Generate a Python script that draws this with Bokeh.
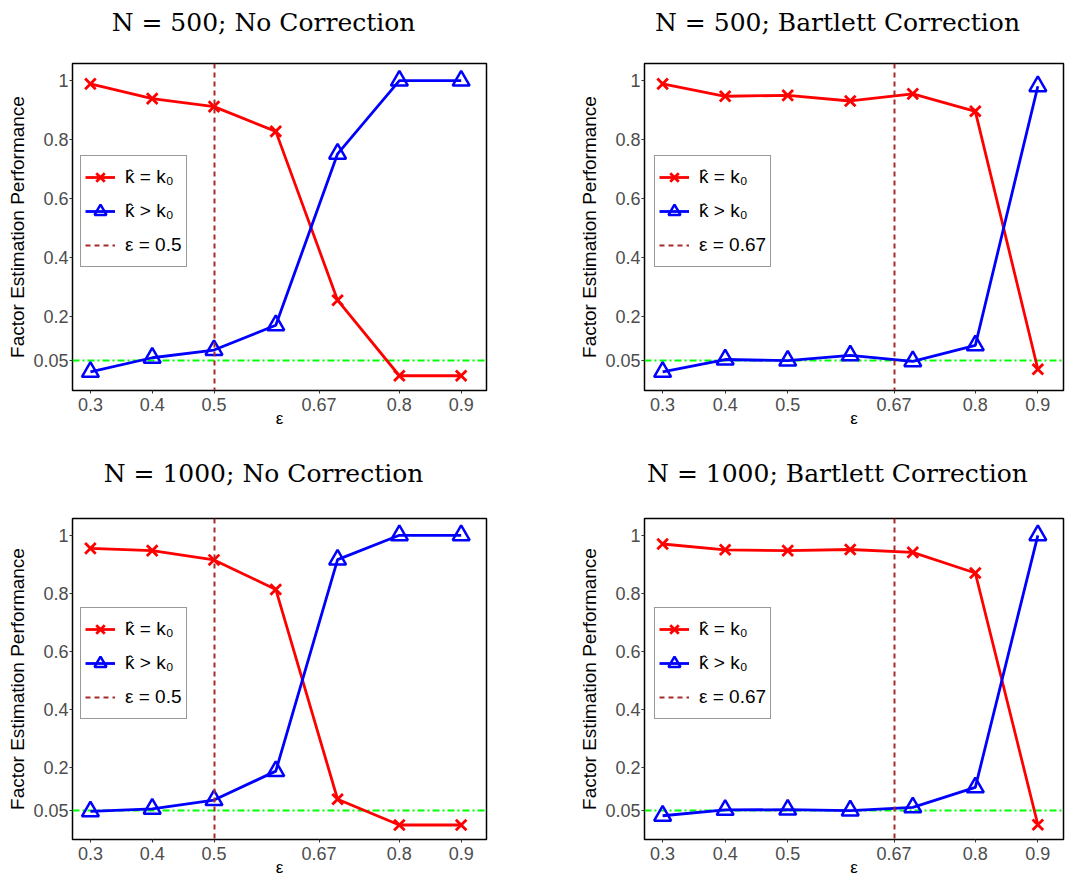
from bokeh.plotting import figure
from bokeh.layouts import gridplot
from bokeh.models import FixedTicker, Range1d
from bokeh.core.properties import value
from bokeh.embed import file_html
from bokeh.resources import INLINE

# ---------------- data ----------------
eps = [0.3, 0.4, 0.5, 0.6, 0.7, 0.8, 0.9]

red_500_nc = [0.989, 0.939, 0.912, 0.828, 0.256, 0.0, 0.0]
blue_500_nc = [0.013, 0.061, 0.087, 0.171, 0.752, 1.0, 1.0]

red_500_bc = [0.989, 0.947, 0.950, 0.931, 0.955, 0.896, 0.022]
blue_500_bc = [0.013, 0.055, 0.051, 0.069, 0.049, 0.103, 0.981]

red_1000_nc = [0.955, 0.947, 0.915, 0.813, 0.089, 0.0, 0.0]
blue_1000_nc = [0.047, 0.056, 0.086, 0.186, 0.916, 1.0, 1.0]

red_1000_bc = [0.970, 0.950, 0.947, 0.951, 0.941, 0.870, 0.001]
blue_1000_bc = [0.032, 0.052, 0.053, 0.050, 0.061, 0.130, 1.0]

cutoffs = [0.5, 0.67, 0.5, 0.67]
cutoff_labels = ["ε = 0.5", "ε = 0.67", "ε = 0.5", "ε = 0.67"]
titles = ["N = 500; No Correction", "N = 500; Bartlett Correction",
          "N = 1000; No Correction", "N = 1000; Bartlett Correction"]
alpha_level = [0.05]

x_ticks = [0.3, 0.4, 0.5, 0.67, 0.8, 0.9]
x_tick_labels = ["0.3", "0.4", "0.5", "0.67", "0.8", "0.9"]
y_ticks = [0.05, 0.2, 0.4, 0.6, 0.8, 1.0]
y_tick_labels = ["0.05", "0.2", "0.4", "0.6", "0.8", "1"]

label_eq = "k\u0302 = k\u2080"
label_gt = "k\u0302 > k\u2080"
y_label = "Factor Estimation Performance"
x_label = "ε"

RED = "#FF0000"
BLUE = "#0000FF"
GREEN = "#00FF00"
BROWN = "#A52A2A"
SANS = "Liberation Sans"


def title_strip(text, fw, h, bl, br, cx, base):
    """A thin figure (1 data unit = 1 px) that only carries the panel title."""
    t = figure(frame_width=fw, height=h, x_range=Range1d(0, fw),
               y_range=Range1d(0, h),
               output_backend="svg", toolbar_location=None,
               min_border_left=bl, min_border_right=br,
               min_border_top=0, min_border_bottom=0,
               outline_line_color=None,
               background_fill_color="white", border_fill_color="white")
    t.axis.visible = False
    t.grid.visible = False
    t.text(x=[cx], y=[base], text=[text], text_font=value("DejaVu Serif"),
           text_font_size="25px", text_color="black", text_align="center",
           text_baseline="alphabetic")
    return t


def panel(red, blue, cut, cut_label, fw, fh, bl, br, ybot_leg):
    p = figure(frame_width=fw, frame_height=fh,
               min_border_left=bl, min_border_right=br,
               min_border_top=2, min_border_bottom=38,
               x_range=Range1d(0.271, 0.941), y_range=Range1d(-0.05, 1.058),
               output_backend="svg", toolbar_location=None,
               background_fill_color="white", border_fill_color="white")

    p.grid.visible = False
    p.outline_line_color = "black"
    p.outline_line_width = 1.5
    p.outline_line_alpha = 1.0

    p.xaxis.ticker = FixedTicker(ticks=x_ticks)
    p.xaxis.major_label_overrides = dict(zip(x_ticks, x_tick_labels))
    p.yaxis.ticker = FixedTicker(ticks=y_ticks)
    p.yaxis.major_label_overrides = dict(zip(y_ticks, y_tick_labels))
    for ax in (p.xaxis[0], p.yaxis[0]):
        ax.axis_line_color = None
        ax.minor_tick_line_color = None
        ax.major_tick_in = 0
        ax.major_tick_out = 3
        ax.major_tick_line_color = "#333333"
        ax.major_label_text_font = SANS
        ax.major_label_text_font_size = "18px"
        ax.major_label_text_color = "#4D4D4D"
        ax.axis_label_text_font = SANS
        ax.axis_label_text_font_style = "normal"
        ax.axis_label_text_color = "black"
    p.xaxis.major_label_standoff = 4
    p.xaxis.axis_label = x_label
    p.xaxis.axis_label_text_font_size = "17px"
    p.xaxis.axis_label_standoff = -5
    p.yaxis.major_label_standoff = 1
    p.yaxis.axis_label = y_label
    p.yaxis.axis_label_text_font_size = "19px"
    p.yaxis.axis_label_standoff = 2

    p.hspan(y=alpha_level, line_color=GREEN, line_width=2, line_dash="7 3 2 3")

    p.line(eps, red, line_color=RED, line_width=2.8, legend_label=label_eq)
    p.scatter(eps, red, marker="x", size=15, line_color=RED, line_width=2.8,
              legend_label=label_eq)
    p.line(eps, blue, line_color=BLUE, line_width=2.8, legend_label=label_gt)
    p.scatter(eps, blue, marker="triangle", size=17, line_color=BLUE,
              fill_color=None, line_width=2.5, legend_label=label_gt)
    p.vspan(x=[cut], line_color=BROWN, line_width=2, line_dash="5 4",
            legend_label=cut_label)

    lg = p.legend[0]
    lg.location = (8 if bl < 80 else 10, ybot_leg)
    lg.border_line_color = "#333333"
    lg.border_line_width = 1
    lg.background_fill_color = "white"
    lg.background_fill_alpha = 1.0
    lg.label_text_font = SANS
    lg.label_text_font_size = "19px"
    lg.label_text_color = "black"
    lg.glyph_width = 30
    lg.glyph_height = 34
    lg.label_height = 34
    lg.label_standoff = 10
    lg.spacing = 0
    lg.padding = 4
    lg.margin = 0
    return p


t1 = title_strip(titles[0], 414, 61, 72, 54, 191, 39)
t2 = title_strip(titles[1], 419, 61, 104, 8, 193, 39)
p1 = panel(red_500_nc, blue_500_nc, cutoffs[0], cutoff_labels[0],
           414, 327, 72, 54, 123)
p2 = panel(red_500_bc, blue_500_bc, cutoffs[1], cutoff_labels[1],
           419, 327, 104, 8, 123)
t3 = title_strip(titles[2], 414, 86, 72, 54, 191, 43)
t4 = title_strip(titles[3], 419, 86, 104, 8, 193, 43)
p3 = panel(red_1000_nc, blue_1000_nc, cutoffs[2], cutoff_labels[2],
           414, 321, 72, 54, 120)
p4 = panel(red_1000_bc, blue_1000_bc, cutoffs[3], cutoff_labels[3],
           419, 321, 104, 8, 120)

grid = gridplot([[t1, t2], [p1, p2], [t3, t4], [p3, p4]],
                toolbar_location=None)

open("out.html", "w").write(file_html(grid, INLINE))
